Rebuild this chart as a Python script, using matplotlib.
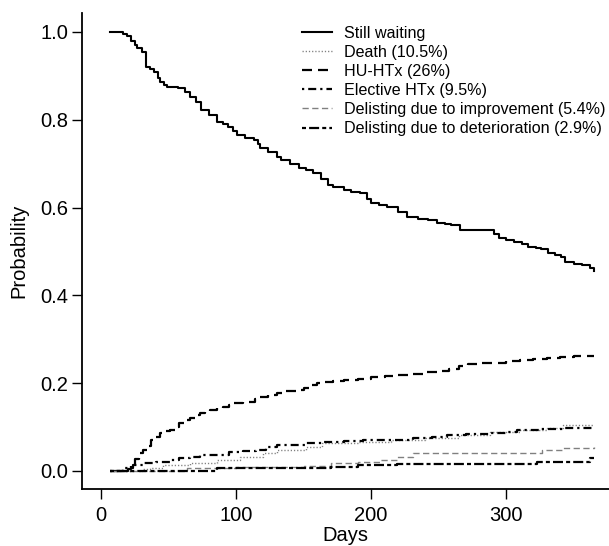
import matplotlib
matplotlib.use("Agg")
import matplotlib.pyplot as plt

plt.rcParams['font.family'] = ['Liberation Sans', 'DejaVu Sans']

# ---- data (days, cumulative probability) ----
wait_t = [7, 16, 19, 22, 25, 27, 30, 33, 36, 39, 42, 44, 47, 49, 53, 57, 62, 66, 70, 74, 80, 86, 90, 94,
          98, 101, 107, 113, 116, 118, 124, 130, 133, 140, 147, 152, 157, 163, 168, 172, 180, 185, 192,
          197, 200, 206, 212, 220, 227, 235, 242, 249, 255, 259, 266, 288, 291, 295, 300, 306, 312, 316,
          322, 326, 331, 336, 341, 344, 350, 356, 362, 365]
wait_p = [1.0, 0.995, 0.99, 0.98, 0.97, 0.963, 0.955, 0.92, 0.915, 0.908, 0.895, 0.886, 0.88, 0.875,
          0.874, 0.872, 0.862, 0.852, 0.84, 0.822, 0.81, 0.795, 0.79, 0.784, 0.775, 0.765, 0.758, 0.754,
          0.745, 0.736, 0.726, 0.715, 0.708, 0.70, 0.69, 0.686, 0.679, 0.665, 0.652, 0.647, 0.64, 0.636,
          0.633, 0.62, 0.61, 0.605, 0.601, 0.59, 0.579, 0.575, 0.572, 0.565, 0.562, 0.56, 0.549, 0.549,
          0.54, 0.53, 0.527, 0.522, 0.517, 0.51, 0.508, 0.505, 0.497, 0.492, 0.488, 0.476, 0.472, 0.469,
          0.462, 0.455]

hu_t = [7, 20, 22, 25, 28, 31, 34, 37, 41, 44, 48, 51, 55, 58, 62, 66, 70, 73, 77, 81, 86, 90, 95, 98,
        105, 110, 114, 118, 124, 130, 137, 145, 150, 155, 160, 164, 172, 180, 190, 200, 210, 220, 230,
        240, 250, 258, 265, 272, 280, 290, 300, 310, 320, 330, 340, 350, 365]
hu_p = [0, 0.005, 0.015, 0.028, 0.04, 0.048, 0.058, 0.07, 0.078, 0.087, 0.09, 0.093, 0.1, 0.109, 0.115,
        0.121, 0.127, 0.132, 0.136, 0.139, 0.143, 0.146, 0.151, 0.155, 0.156, 0.157, 0.163, 0.169, 0.174,
        0.178, 0.182, 0.185, 0.19, 0.196, 0.2, 0.203, 0.205, 0.207, 0.21, 0.213, 0.216, 0.219, 0.222,
        0.225, 0.228, 0.232, 0.238, 0.243, 0.245, 0.247, 0.25, 0.252, 0.255, 0.257, 0.26, 0.261, 0.261]

el_t = [7, 16, 24, 32, 41, 51, 58, 66, 73, 86, 95, 105, 115, 122, 130, 152, 164, 180, 194, 214, 231,
        245, 256, 270, 288, 300, 308, 325, 342, 365]
el_p = [0, 0.007, 0.014, 0.018, 0.02, 0.025, 0.029, 0.032, 0.036, 0.036, 0.043, 0.045, 0.048, 0.054,
        0.059, 0.064, 0.066, 0.068, 0.07, 0.07, 0.075, 0.078, 0.082, 0.084, 0.086, 0.089, 0.093, 0.095,
        0.098, 0.098]

death_t = [7, 30, 36, 46, 66, 86, 103, 120, 130, 152, 164, 190, 215, 240, 265, 288, 310, 330, 342, 365]
death_p = [0, 0.004, 0.007, 0.014, 0.018, 0.025, 0.032, 0.041, 0.048, 0.055, 0.064, 0.066, 0.07,
           0.075, 0.082, 0.089, 0.093, 0.098, 0.105, 0.105]

imp_t = [7, 64, 100, 150, 170, 190, 207, 219, 231, 318, 327, 342, 365]
imp_p = [0, 0.007, 0.009, 0.012, 0.018, 0.02, 0.025, 0.032, 0.041, 0.041, 0.048, 0.052, 0.055]

det_t = [7, 86, 170, 190, 219, 323, 362, 365]
det_p = [0, 0.007, 0.010, 0.014, 0.016, 0.020, 0.029, 0.029]

labels = ["Still waiting", "Death (10.5%)", "HU-HTx (26%)", "Elective HTx (9.5%)",
          "Delisting due to improvement (5.4%)", "Delisting due to deterioration (2.9%)"]

W, H = 609, 546
fig = plt.figure(figsize=(W / 100, H / 100), dpi=100)
ax = fig.add_axes([82 / W, (H - 489) / H, 526.5 / W, (489 - 13) / H])

kw = dict(where="post")
ax.step(wait_t, wait_p, color="black", lw=1.5, label=labels[0], **kw)
ax.step(death_t, death_p, color="#808080", lw=1.0, linestyle=(0, (0.9, 1.4)), label=labels[1], **kw)
ax.step(hu_t, hu_p, color="black", lw=1.6, linestyle=(0, (4.5, 2.7)), label=labels[2], **kw)
ax.step(el_t, el_p, color="black", lw=1.6, linestyle=(0, (1.0, 1.8, 3.6, 1.8)), label=labels[3], **kw)
ax.step(imp_t, imp_p, color="#808080", lw=1.0, linestyle=(0, (4.5, 2.5)), label=labels[4], **kw)
ax.step(det_t, det_p, color="black", lw=1.6, linestyle=(0, (1.8, 1.4, 4.5, 1.4)), label=labels[5], **kw)

ax.set_xlim(-14.1, 375.9)
ax.set_ylim(-0.041, 1.043)
ax.set_xticks([0, 100, 200, 300])
ax.set_yticks([0.0, 0.2, 0.4, 0.6, 0.8, 1.0])
ax.set_yticklabels(["0.0", "0.2", "0.4", "0.6", "0.8", "1.0"])
for s in ("top", "right"):
    ax.spines[s].set_visible(False)
for s in ("left", "bottom"):
    ax.spines[s].set_linewidth(1.3)
ax.tick_params(axis="both", direction="out", length=7, width=1.0, labelsize=14.5, colors="black")
ax.tick_params(axis="x", pad=5)
ax.tick_params(axis="y", pad=3)
ax.set_xlabel("Days", fontsize=14.5, labelpad=1)
ax.set_ylabel("Probability", fontsize=14.5, labelpad=8.5)

leg = ax.legend(loc="upper left", bbox_to_anchor=(302 / W, 1 - 26 / H), bbox_transform=fig.transFigure,
                frameon=False, fontsize=11.6, handlelength=1.85, handletextpad=0.75,
                labelspacing=0.25, borderpad=0, borderaxespad=0)

fig.savefig("out.png", dpi=100)
